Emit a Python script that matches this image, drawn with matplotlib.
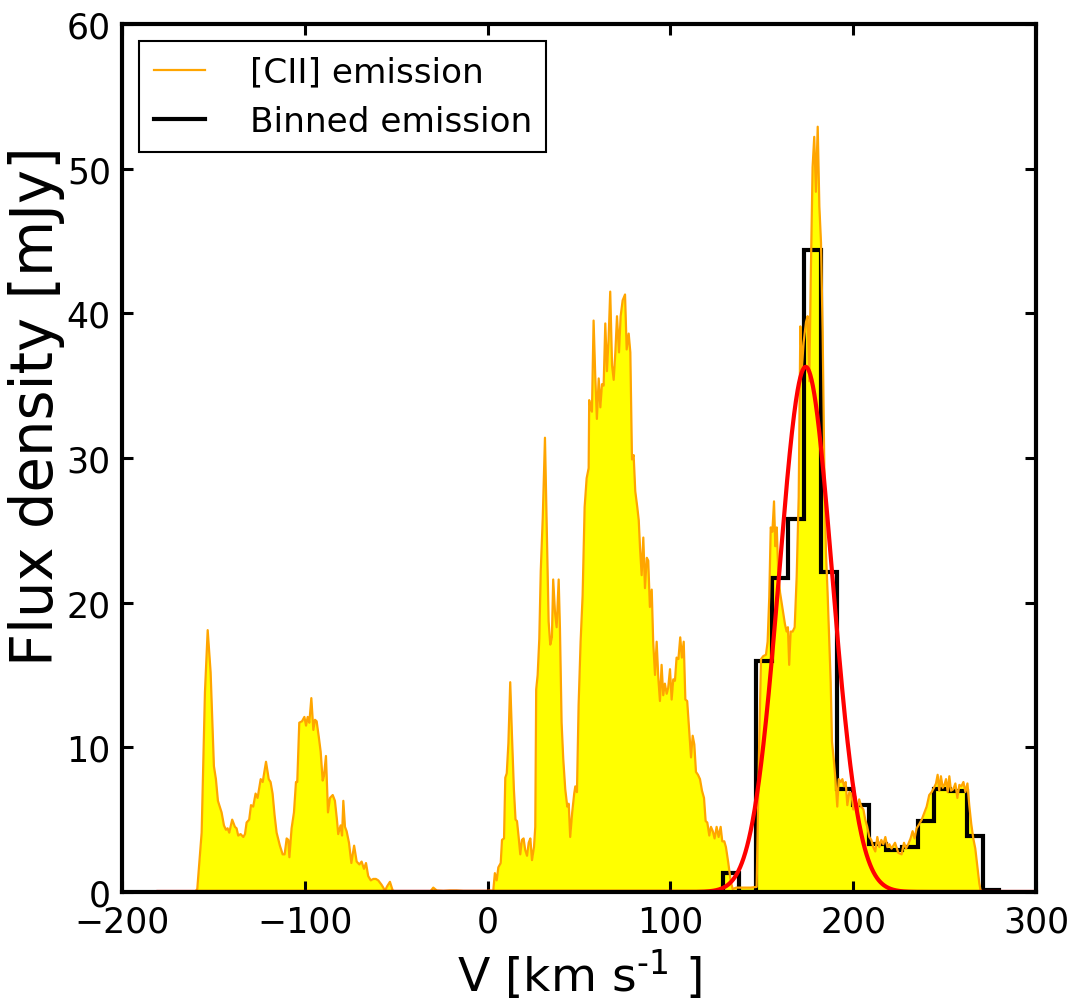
# [CII] spectrum with binned emission and a single gaussian fit to the main component

import numpy as np
import matplotlib
matplotlib.use('Agg')
import matplotlib.pyplot as plt
from matplotlib.lines import Line2D

# observed spectrum: velocity (km/s) and flux density (mJy)
vel = [-176.0, -160.0, -158.8, -156.4, -154.6, -153.1, -151.5, -149.7, -148.6, -147.5,
       -145.5, -144.2, -143.1, -142.2, -141.3, -139.7, -138.2, -137.3, -136.4, -135.1,
       -133.6, -132.7, -131.8, -130.4, -129.4, -128.2, -126.9, -125.8, -124.1, -123.0,
       -121.2, -119.7, -118.7, -117.6, -116.5, -115.4, -113.6, -112.1, -111.0, -109.9,
       -109.0, -108.4, -107.2, -105.9, -104.8, -104.1, -103.0, -101.5, -100.2, -99.3,
       -98.4, -97.5, -96.4, -95.3, -94.4, -93.5, -92.2, -91.3, -90.2, -89.5,
       -88.4, -87.3, -86.2, -84.7, -83.5, -82.4, -81.7, -80.4, -79.6, -78.9,
       -78.0, -77.1, -75.8, -74.5, -73.0, -71.6, -70.1, -68.9, -67.6, -66.5,
       -65.3, -63.9, -62.5, -61.1, -59.8, -58.0, -56.1, -54.9, -53.4, -51.9,
       -49.7, -47.0, -42.2, -36.0, -31.5, -29.7, -27.8, -24.2, -20.6, -16.9,
       -13.3, -6.0, -0.5, 1.3, 3.1, 4.0, 5.0, 5.9, 7.2, 7.9,
       9.0, 9.7, 10.5, 11.4, 12.4, 13.3, 14.4, 15.3, 16.1, 17.0,
       17.9, 18.8, 19.7, 20.6, 21.6, 22.5, 23.4, 24.3, 25.4, 26.1,
       26.6, 27.4, 28.3, 29.1, 30.2, 31.4, 32.3, 33.4, 34.3, 35.2,
       35.9, 36.9, 37.8, 38.9, 39.6, 40.5, 41.4, 42.5, 43.6, 44.4,
       45.2, 46.3, 47.4, 48.0, 48.9, 49.8, 50.9, 52.0, 53.1, 54.2,
       55.3, 55.6, 56.3, 57.1, 58.0, 58.9, 59.8, 60.8, 61.7, 62.6,
       63.5, 64.4, 65.3, 66.2, 67.1, 68.1, 69.0, 69.9, 70.8, 71.9,
       72.8, 73.9, 75.2, 76.1, 77.2, 78.1, 79.0, 79.9, 80.8, 81.9,
       82.7, 83.4, 84.3, 85.2, 86.1, 87.1, 87.9, 88.8, 89.8, 90.6,
       91.6, 92.5, 93.4, 94.3, 95.2, 96.1, 97.0, 98.0, 98.8, 99.8,
       100.7, 101.6, 102.5, 103.4, 104.4, 105.4, 106.3, 107.3, 108.2, 109.2,
       110.3, 111.3, 112.2, 113.1, 114.0, 115.1, 116.2, 117.3, 118.4, 119.3,
       120.2, 121.3, 122.2, 123.2, 124.2, 125.3, 126.4, 127.5, 128.4, 129.5,
       130.4, 131.7, 133.0, 134.1, 136.0, 140.0, 144.0, 147.2, 148.6, 149.6,
       150.8, 152.3, 153.2, 154.1, 154.9, 155.8, 156.7, 157.4, 158.2, 159.0,
       160.0, 161.2, 162.7, 163.6, 164.3, 165.0, 165.8, 166.9, 168.0, 169.1,
       170.2, 171.1, 172.0, 172.9, 174.2, 175.1, 176.0, 176.9, 177.8, 178.7,
       179.6, 180.6, 181.5, 182.4, 183.3, 184.2, 185.1, 186.0, 186.9, 187.7,
       188.4, 189.5, 190.4, 191.3, 192.1, 193.2, 194.1, 195.0, 195.9, 196.8,
       197.9, 199.0, 200.1, 201.2, 202.3, 203.3, 204.4, 205.6, 206.6, 207.7,
       208.8, 209.9, 211.0, 212.1, 213.2, 214.3, 215.4, 216.5, 217.6, 218.7,
       219.8, 221.0, 222.9, 224.7, 226.5, 227.8, 228.9, 230.1, 231.4, 232.5,
       233.6, 234.7, 236.2, 237.5, 238.7, 240.2, 241.6, 242.9, 244.2, 245.3,
       246.2, 247.1, 248.0, 249.0, 249.9, 250.8, 251.7, 252.6, 253.5, 254.8,
       255.9, 257.0, 258.1, 259.2, 260.3, 261.4, 262.5, 263.5, 264.6, 265.7,
       266.8, 267.9, 269.0, 269.7, 272.0, 280.0]

flux = [0.0, 0.0, 0.2, 4.1, 13.8, 18.1, 15.2, 8.7, 7.8, 6.3,
        5.5, 4.6, 4.3, 4.4, 4.1, 5.0, 4.5, 4.4, 3.9, 4.0,
        3.8, 4.0, 4.8, 5.0, 6.0, 5.9, 6.8, 6.5, 7.8, 7.6,
        9.0, 7.8, 7.6, 6.8, 5.3, 4.1, 3.2, 2.6, 2.6, 3.7,
        3.6, 2.4, 4.4, 5.5, 7.6, 7.6, 11.7, 11.8, 12.1, 11.5,
        12.1, 11.7, 13.4, 11.2, 11.9, 11.8, 10.6, 9.7, 7.7, 8.0,
        9.4, 5.5, 6.5, 6.7, 6.3, 5.0, 4.0, 4.6, 3.9, 6.3,
        4.5, 4.2, 3.4, 2.0, 3.2, 2.1, 1.9, 2.1, 1.6, 2.0,
        1.1, 0.8, 0.9, 0.9, 0.8, 0.5, 0.1, 0.4, 0.7, 0.1,
        0.0, 0.05, 0.0, 0.0, 0.0, 0.3, 0.1, 0.07, 0.1, 0.1,
        0.07, 0.07, 0.07, 0.1, 0.07, 1.3, 0.8, 1.7, 2.0, 3.6,
        3.7, 7.9, 8.2, 10.3, 14.5, 11.0, 7.1, 5.0, 4.9, 3.8,
        2.6, 3.6, 3.7, 2.9, 2.5, 3.4, 3.7, 2.2, 3.1, 4.5,
        14.0, 15.0, 17.5, 22.2, 25.9, 31.4, 25.6, 18.7, 17.1, 17.6,
        21.6, 19.3, 18.3, 21.6, 18.2, 11.7, 9.2, 7.1, 5.9, 6.1,
        3.8, 5.5, 6.8, 7.3, 6.9, 12.9, 17.3, 20.5, 26.6, 28.6,
        29.3, 34.0, 33.5, 33.2, 39.5, 35.7, 32.7, 35.5, 33.5, 35.1,
        35.0, 39.3, 36.0, 38.2, 41.5, 36.4, 35.4, 37.3, 39.8, 37.3,
        39.8, 40.9, 41.3, 37.5, 38.6, 37.3, 29.9, 30.2, 27.7, 26.6,
        25.7, 23.8, 21.9, 24.5, 21.0, 23.1, 22.9, 19.7, 20.9, 17.3,
        15.0, 17.3, 14.8, 13.2, 15.7, 13.6, 14.4, 13.7, 14.1, 15.4,
        13.3, 14.7, 14.6, 16.2, 16.1, 17.6, 16.2, 17.3, 13.3, 13.2,
        11.1, 9.3, 10.8, 10.2, 8.3, 8.1, 7.8, 7.0, 6.5, 4.9,
        4.8, 3.9, 4.5, 4.2, 3.7, 4.5, 3.8, 4.5, 3.5, 3.5,
        3.1, 2.0, 0.75, 0.2, 0.3, 0.3, 0.3, 0.35, 10.4, 16.1,
        16.3, 16.4, 17.3, 20.4, 25.2, 24.9, 27.0, 23.9, 25.2, 22.1,
        20.7, 19.7, 18.5, 18.0, 18.3, 15.7, 18.0, 18.0, 18.3, 21.8,
        27.3, 39.1, 36.3, 38.0, 39.4, 39.8, 35.3, 43.2, 50.1, 52.2,
        48.4, 52.9, 47.4, 44.9, 38.7, 29.4, 23.5, 20.7, 17.3, 14.5,
        10.4, 9.0, 7.6, 5.9, 7.8, 7.6, 7.8, 7.3, 7.6, 6.0,
        6.9, 6.8, 5.7, 6.6, 5.4, 6.4, 5.9, 5.7, 5.0, 4.5,
        3.8, 3.6, 3.1, 2.8, 3.8, 3.1, 3.6, 3.3, 3.8, 3.1,
        3.3, 3.0, 3.4, 2.7, 2.6, 3.4, 3.0, 3.3, 3.7, 4.2,
        3.7, 4.4, 4.7, 5.0, 5.4, 5.9, 6.7, 6.9, 7.2, 7.5,
        8.1, 7.0, 8.0, 7.2, 7.4, 7.8, 6.9, 8.0, 7.0, 7.1,
        7.5, 6.5, 7.4, 7.3, 7.6, 6.9, 7.5, 6.0, 4.7, 3.7,
        3.0, 1.8, 0.6, 0.1, 0.0, 0.0]

# binned emission (mJy), bins of ~8.9 km/s starting at 128.9 km/s
bin_start = 128.9
bin_width = 8.88
binned_flux = [1.3, 0.0, 16.0, 21.7, 25.8, 44.4, 22.1, 7.1, 6.0, 3.3,
               2.9, 3.1, 4.9, 7.1, 7.0, 3.9, 0.15]

# gaussian fit to the main component
g_amp = 36.3    # mJy
g_cen = 174.0   # km/s
g_sigma = 14.5  # km/s

plt.rcParams['font.family'] = 'DejaVu Sans'
plt.rcParams['mathtext.default'] = 'regular'

edges = bin_start + bin_width * np.arange(len(binned_flux) + 1)
vfit = np.linspace(-180, 300, 2000)
gfit = g_amp * np.exp(-0.5 * ((vfit - g_cen) / g_sigma) ** 2)

fig = plt.figure(figsize=(10.84, 10.04), dpi=100)
ax = fig.add_axes([0.1125, 0.1106, 0.8432, 0.8645])

ax.fill_between(vel, flux, 0, color='yellow', linewidth=0)
ax.plot(vel, flux, color='orange', lw=1.6)
ax.stairs(binned_flux, edges, baseline=0, color='black', lw=3)
ax.plot(vfit, gfit, color='red', lw=3)

ax.set_xlim(-200, 300)
ax.set_ylim(0, 60)
ax.set_xticks([-200, -100, 0, 100, 200, 300])
ax.set_yticks([0, 10, 20, 30, 40, 50, 60])
ax.set_xlabel('V [km s$^{\\text{-1}}$ ]', fontsize=34, labelpad=6)
ax.set_ylabel('Flux density [mJy]', fontsize=41.5)
ax.yaxis.set_label_coords(-0.062, 0.561)

ax.tick_params(direction='in', top=True, right=True, length=8, width=2.2,
               labelsize=25, pad=8)
ax.tick_params(axis='x', pad=9)
for sp in ax.spines.values():
    sp.set_linewidth(3)
    sp.set_zorder(10)

# legend handles: thin orange line, thick black line
handles = [Line2D([], [], color='orange', lw=1.6),
           Line2D([], [], color='black', lw=3)]
leg = ax.legend(handles, ['[CII] emission', 'Binned emission'], loc='upper left',
                fontsize=24.7, fancybox=False, handlelength=1.5, handletextpad=1.3,
                borderpad=0.42, borderaxespad=0.5, labelspacing=0.48)
leg.get_frame().set_edgecolor('black')
leg.get_frame().set_linewidth(1.5)
leg.get_frame().set_alpha(1)
leg.set_zorder(11)

fig.savefig('out.png', dpi=100, facecolor='white')
